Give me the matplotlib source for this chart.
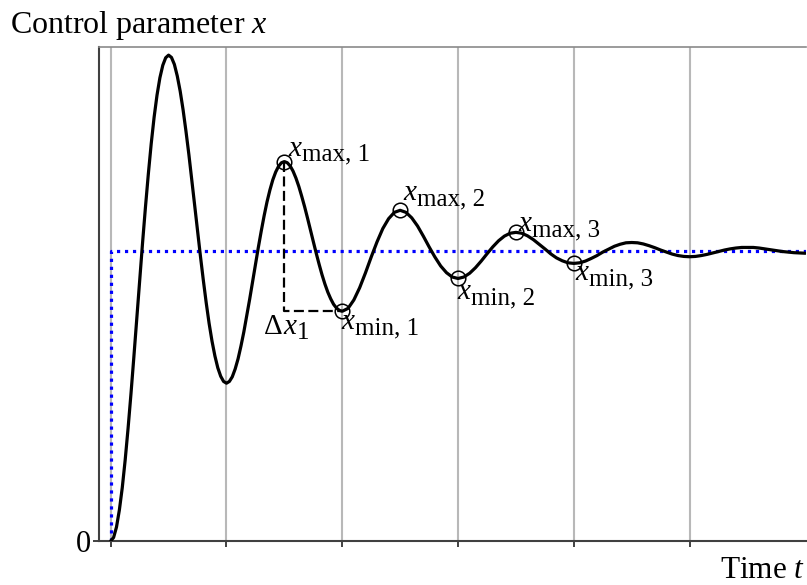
import numpy as np
import matplotlib
matplotlib.use("Agg")
import matplotlib.pyplot as plt

# ---------------- data ----------------
# finer reading over the large first oscillations, coarser afterwards
time_values = np.concatenate([np.round(np.arange(80) * 0.025, 3),
                              np.round(2.0 + np.arange(81) * 0.05, 3)])
x_values = [
    # t = 0.000 ... 0.475  (step 0.025)
    0.000, 0.012, 0.048, 0.107, 0.184, 0.279, 0.388, 0.507, 0.634, 0.766,
    0.897, 1.027, 1.150, 1.265, 1.370, 1.461, 1.537, 1.597, 1.640, 1.666,
    # t = 0.500 ... 0.975
    1.675, 1.667, 1.643, 1.603, 1.551, 1.487, 1.413, 1.333, 1.247, 1.158,
    1.070, 0.982, 0.899, 0.821, 0.750, 0.689, 0.638, 0.597, 0.568, 0.550,
    # t = 1.000 ... 1.475
    0.544, 0.550, 0.566, 0.593, 0.628, 0.672, 0.721, 0.776, 0.833, 0.893,
    0.953, 1.012, 1.068, 1.121, 1.169, 1.210, 1.245, 1.272, 1.292, 1.304,
    # t = 1.500 ... 1.975
    1.308, 1.304, 1.293, 1.275, 1.251, 1.222, 1.188, 1.152, 1.113, 1.072,
    1.032, 0.992, 0.954, 0.918, 0.886, 0.858, 0.835, 0.816, 0.803, 0.795,
    # t = 2.00 ... 6.00  (step 0.05)
    0.792, 0.802, 0.831, 0.873, 0.924, 0.979, 1.031, 1.077, 1.111, 1.133,
    1.140, 1.133, 1.114, 1.086, 1.051, 1.014, 0.979, 0.948, 0.925, 0.910,
    0.905, 0.910, 0.923, 0.942, 0.965, 0.990, 1.014, 1.035, 1.051, 1.061,
    1.064, 1.061, 1.052, 1.039, 1.023, 1.007, 0.990, 0.976, 0.966, 0.959,
    0.957, 0.959, 0.965, 0.974, 0.984, 0.996, 1.006, 1.016, 1.023, 1.028,
    1.029, 1.028, 1.024, 1.018, 1.011, 1.003, 0.996, 0.989, 0.984, 0.981,
    0.980, 0.981, 0.984, 0.988, 0.993, 0.998, 1.003, 1.007, 1.010, 1.012,
    1.012, 1.012, 1.010, 1.007, 1.004, 1.001, 0.998, 0.996, 0.994, 0.993,
    0.992,
]
setpoint = 1.0
grid_times = [0, 1, 2, 3, 4, 5]
extremum_times = [1.5, 2.0, 2.5, 3.0, 3.5, 4.0]
extremum_subscripts = ["max, 1", "min, 1", "max, 2", "min, 2", "max, 3", "min, 3"]
label_offsets = [(3.2, 4.3), (-0.7, -13.0), (2.6, 7.2), (-0.4, -15.0),
                 (2.0, 0.7), (1.4, -12.2)]
y_tick_values = [0]
y_tick_labels = ["0"]

# ---------------- style ----------------
plt.rcParams["font.family"] = ["Liberation Serif", "DejaVu Serif"]
plt.rcParams["mathtext.fontset"] = "custom"
plt.rcParams["mathtext.rm"] = "Liberation Serif"
plt.rcParams["mathtext.it"] = "Liberation Serif:italic"

MAIN = 21
SUB = 18

fig = plt.figure(figsize=(8.07, 5.85), dpi=100)
ax = fig.add_axes([99 / 807, 44 / 585, 707 / 807, 494 / 585])
ax.set_xlim(-0.101, 6.005)
ax.set_ylim(0, 1.703)

# grid / ticks
ax.set_xticks(grid_times)
ax.set_xticklabels([])
ax.grid(axis="x", color="#b8b8b8", lw=1.5)
ax.set_axisbelow(True)
ax.tick_params(axis="x", length=4, width=1.3, color="#333333", direction="out")
ax.set_yticks(y_tick_values)
ax.set_yticklabels(y_tick_labels, fontsize=22)
ax.tick_params(axis="y", length=4.5, width=1.3, color="#333333", pad=1)

for side in ["left", "bottom"]:
    ax.spines[side].set_linewidth(1.5)
    ax.spines[side].set_color("#404040")
ax.spines["top"].set_color("#8a8a8a")
ax.spines["top"].set_linewidth(1.2)
ax.spines["right"].set_visible(False)

# setpoint step (blue dotted)
x_right = ax.get_xlim()[1]
ax.plot([0, 0, x_right], [0, setpoint, setpoint], color="#0000ff", lw=2.3,
        linestyle=(0, (1, 1.5)), zorder=2)

# response curve
ax.plot(time_values, x_values, color="black", lw=2.3, zorder=3,
        solid_joinstyle="round", solid_capstyle="round")


def var_label(xy, offset, sub, prefix=None):
    """italic x followed by a large upright subscript"""
    if prefix is not None:
        p = ax.annotate(prefix, xy=xy, xytext=offset, textcoords="offset points",
                        ha="left", va="baseline", fontsize=MAIN)
        xt = ax.annotate("x", xy=(1, 0), xycoords=p, xytext=(0.8, 4.6),
                         textcoords="offset points", ha="left", va="baseline",
                         fontsize=MAIN, style="italic")
    else:
        xt = ax.annotate("x", xy=xy, xytext=offset,
                         textcoords="offset points", ha="left", va="baseline",
                         fontsize=MAIN, style="italic")
    ax.annotate(sub, xy=(1, 0), xycoords=xt, xytext=(0.3, 0.6),
                textcoords="offset points", ha="left", va="baseline",
                fontsize=SUB)


# extremum markers and labels
idx = [int(np.argmin(np.abs(time_values - t))) for t in extremum_times]
ext_vals = [x_values[i] for i in idx]
ax.plot(extremum_times, ext_vals, "o", ms=10.5, mfc="none", mec="black",
        mew=1.1, zorder=4)
for t, v, sub, off in zip(extremum_times, ext_vals, extremum_subscripts, label_offsets):
    var_label((t, v), off, sub)

# delta x_1 construction
t_max1, v_max1 = extremum_times[0], ext_vals[0]
t_min1, v_min1 = extremum_times[1], ext_vals[1]
ax.plot([t_max1, t_max1, t_min1], [v_max1, v_min1, v_min1], color="black",
        lw=1.6, linestyle=(0, (4.5, 2.0)), zorder=3)
var_label((t_max1, v_min1), (-14.8, -16.6), "1", prefix="Δ")

# axis titles
fig.text(10 / 807, (585 - 33) / 585, r"Control parameter $x$", fontsize=23,
         ha="left", va="baseline")
fig.text(805 / 807, 7 / 585, r"Time $t$", fontsize=22.5, ha="right", va="baseline")

fig.savefig("out.png", dpi=100)
